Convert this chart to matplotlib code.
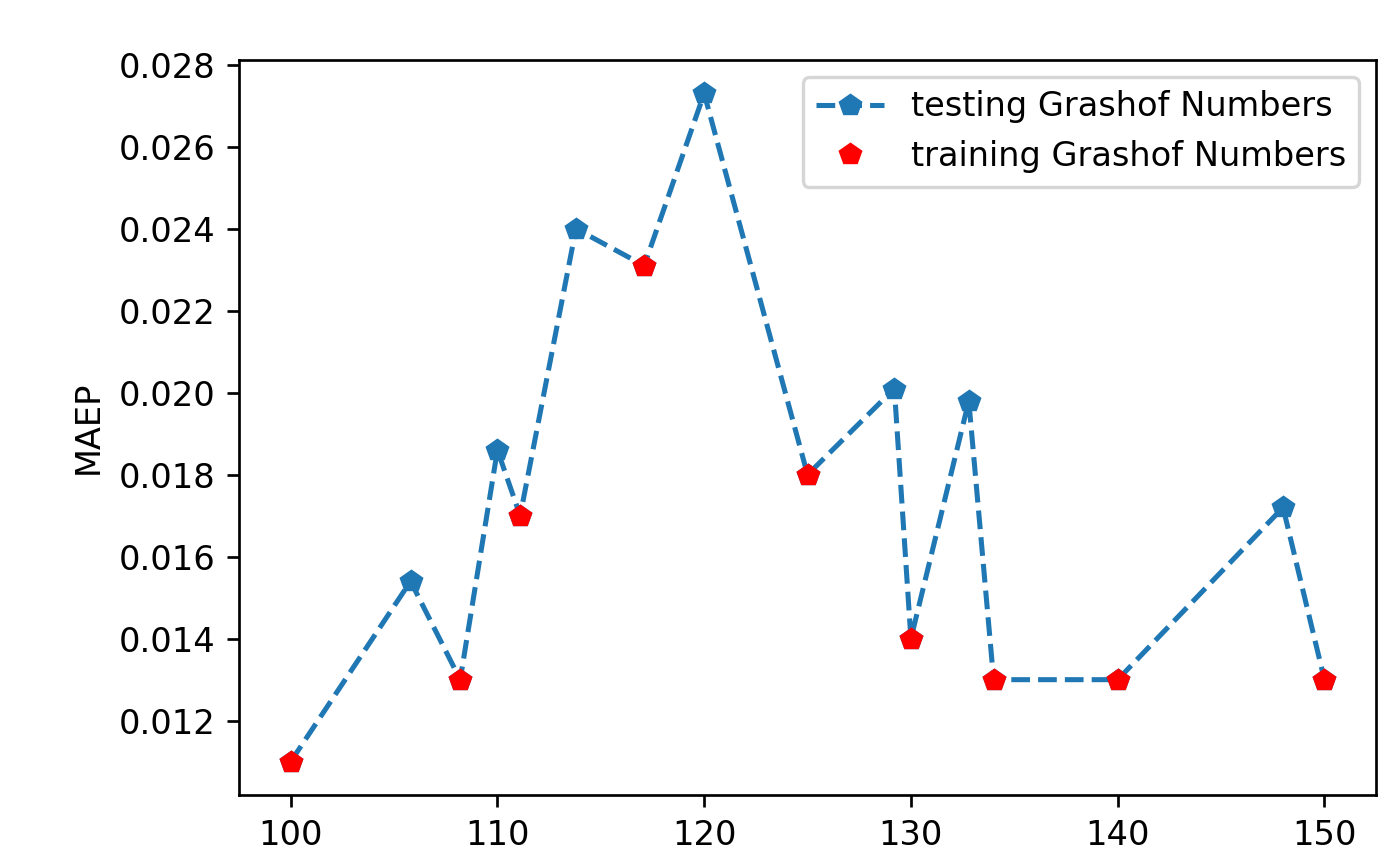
import matplotlib
matplotlib.use("Agg")
import matplotlib.pyplot as plt
import numpy as np

# all Grashof numbers (testing + training), in order
gr_all = [100, 105.8, 108.2, 110, 111.1, 113.8, 117.1, 120, 125, 129.2, 130, 132.8, 134, 140, 148, 150]
maep_all = [0.0110, 0.0154, 0.0130, 0.0186, 0.0170, 0.0240, 0.0231, 0.0273, 0.0180, 0.0201, 0.0140, 0.0198, 0.0130, 0.0130, 0.0172, 0.0130]

# training Grashof numbers
gr_train = [100, 108.2, 111.1, 117.1, 125, 130, 134, 140, 150]
maep_train = [0.0110, 0.0130, 0.0170, 0.0231, 0.0180, 0.0140, 0.0130, 0.0130, 0.0130]

dpi = 242.6
fig = plt.figure(figsize=(1383 / dpi, 854 / dpi), dpi=dpi)
ax = fig.add_axes([0.1728, 0.069, 0.995 - 0.1728, 0.9297 - 0.069])

ax.plot(gr_all, maep_all, '--p', label='testing Grashof Numbers')
ax.plot(gr_train, maep_train, 'rp', label='training Grashof Numbers')

ax.set_ylabel('MAEP')
ax.legend(loc='upper right')

fig.savefig('out.png', dpi=dpi)
